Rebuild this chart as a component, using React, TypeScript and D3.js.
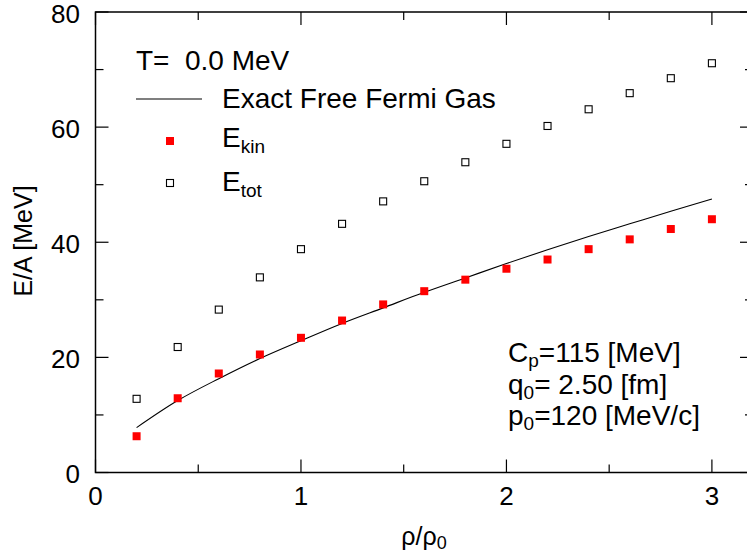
import React from "react";
import * as d3 from "d3";

// Density in units of rho0
const densities = [0.2, 0.4, 0.6, 0.8, 1.0, 1.2, 1.4, 1.6, 1.8, 2.0, 2.2, 2.4, 2.6, 2.8, 3.0];
// Kinetic energy per nucleon [MeV]
const eKin = [6.3, 12.9, 17.2, 20.5, 23.4, 26.4, 29.2, 31.5, 33.5, 35.4, 37.0, 38.8, 40.5, 42.3, 44.0];
// Total energy per nucleon [MeV]
const eTot = [12.8, 21.8, 28.3, 33.9, 38.8, 43.2, 47.1, 50.6, 53.9, 57.1, 60.2, 63.1, 65.9, 68.5, 71.1];
// Exact free Fermi gas curve [MeV]
const exactFermi = [7.8, 12.5, 16.3, 19.8, 22.9, 25.9, 28.6, 31.3, 33.8, 36.3, 38.7, 41.0, 43.2, 45.4, 47.5];

const xMajorTicks = [0, 1, 2, 3];
const xMinorTicks = [0.5, 1.5, 2.5];
const yMajorTicks = [0, 20, 40, 60, 80];
const yMinorTicks = [10, 30, 50, 70];

const W = 747;
const H = 558;
const left = 95.5;
const right = 753;
const top = 12;
const bottom = 472.5;

const FONT = "'Liberation Sans', Arial, Helvetica, sans-serif";

export default function App() {
  const x = d3.scaleLinear().domain([0, 3.2]).range([left, right]);
  const y = d3.scaleLinear().domain([0, 80]).range([bottom, top]);

  const line = d3
    .line<number>()
    .x((_, i) => x(densities[i]))
    .y((d) => y(d))
    .curve(d3.curveCatmullRom);

  const majorLen = 13;
  const minorLen = 8;
  const sq = 8;

  return (
    <svg
      width={W}
      height={H}
      style={{ position: "absolute", left: 0, top: 0, background: "#fff" }}
      fontFamily={FONT}
    >
      {/* frame */}
      <rect x={left} y={top} width={right - left} height={bottom - top} fill="none" stroke="#000" strokeWidth={1.5} />

      {/* x ticks, bottom and top, pointing inward */}
      {xMajorTicks.map((t) => (
        <g key={"xm" + t}>
          <line x1={x(t)} x2={x(t)} y1={bottom} y2={bottom - majorLen} stroke="#000" strokeWidth={1.2} />
          <line x1={x(t)} x2={x(t)} y1={top} y2={top + majorLen} stroke="#000" strokeWidth={1.2} />
          <text x={x(t)} y={505} textAnchor="middle" fontSize={26}>
            {t}
          </text>
        </g>
      ))}
      {xMinorTicks.map((t) => (
        <g key={"xn" + t}>
          <line x1={x(t)} x2={x(t)} y1={bottom} y2={bottom - minorLen} stroke="#000" strokeWidth={1.2} />
          <line x1={x(t)} x2={x(t)} y1={top} y2={top + minorLen} stroke="#000" strokeWidth={1.2} />
        </g>
      ))}

      {/* y ticks, left and right */}
      {yMajorTicks.map((t) => (
        <g key={"ym" + t}>
          <line x1={left} x2={left + majorLen} y1={y(t)} y2={y(t)} stroke="#000" strokeWidth={1.2} />
          <line x1={right} x2={right - majorLen} y1={y(t)} y2={y(t)} stroke="#000" strokeWidth={1.2} />
          <text x={80} y={y(t) + 10.5} textAnchor="end" fontSize={26}>
            {t}
          </text>
        </g>
      ))}
      {yMinorTicks.map((t) => (
        <g key={"yn" + t}>
          <line x1={left} x2={left + minorLen} y1={y(t)} y2={y(t)} stroke="#000" strokeWidth={1.2} />
          <line x1={right} x2={right - minorLen} y1={y(t)} y2={y(t)} stroke="#000" strokeWidth={1.2} />
        </g>
      ))}

      {/* axis titles */}
      <text transform="translate(32,241) rotate(-90)" textAnchor="middle" fontSize={25}>
        E/A [MeV]
      </text>
      <text x={424} y={545} textAnchor="middle" fontSize={25}>
        ρ/ρ<tspan fontSize={18} dy={4}>0</tspan>
      </text>

      {/* exact free Fermi gas */}
      <path d={line(exactFermi) || ""} fill="none" stroke="#000" strokeWidth={1.1} />

      {/* E_kin markers */}
      {eKin.map((v, i) => (
        <rect key={"k" + i} x={x(densities[i]) - sq / 2} y={y(v) - sq / 2} width={sq} height={sq} fill="#ff0000" />
      ))}
      {/* E_tot markers */}
      {eTot.map((v, i) => (
        <rect
          key={"t" + i}
          x={x(densities[i]) - (sq - 1) / 2}
          y={y(v) - (sq - 1) / 2}
          width={sq - 1}
          height={sq - 1}
          fill="none"
          stroke="#000"
          strokeWidth={1.1}
        />
      ))}

      {/* legend */}
      <text x={136} y={70} fontSize={28} xmlSpace="preserve">
        T=  0.0 MeV
      </text>
      <line x1={136} x2={202} y1={99} y2={99} stroke="#000" strokeWidth={1.1} />
      <text x={222} y={108} fontSize={28}>
        Exact Free Fermi Gas
      </text>
      <rect x={170 - sq / 2} y={141 - sq / 2} width={sq} height={sq} fill="#ff0000" />
      <text x={222} y={147} fontSize={28}>
        E<tspan fontSize={19} dy={6}>kin</tspan>
      </text>
      <rect x={170 - 3.5} y={183 - 3.5} width={7} height={7} fill="none" stroke="#000" strokeWidth={1.1} />
      <text x={222} y={191} fontSize={28}>
        E<tspan fontSize={19} dy={6}>tot</tspan>
      </text>

      {/* model parameters */}
      <text x={508} y={361.5} fontSize={28}>
        C<tspan fontSize={19} dy={5}>p</tspan>
        <tspan dy={-5}>=115 [MeV]</tspan>
      </text>
      <text x={508} y={393.5} fontSize={28}>
        q<tspan fontSize={19} dy={5}>0</tspan>
        <tspan dy={-5}>= 2.50 [fm]</tspan>
      </text>
      <text x={508} y={425} fontSize={28}>
        p<tspan fontSize={19} dy={5}>0</tspan>
        <tspan dy={-5}>=120 [MeV/c]</tspan>
      </text>
    </svg>
  );
}
